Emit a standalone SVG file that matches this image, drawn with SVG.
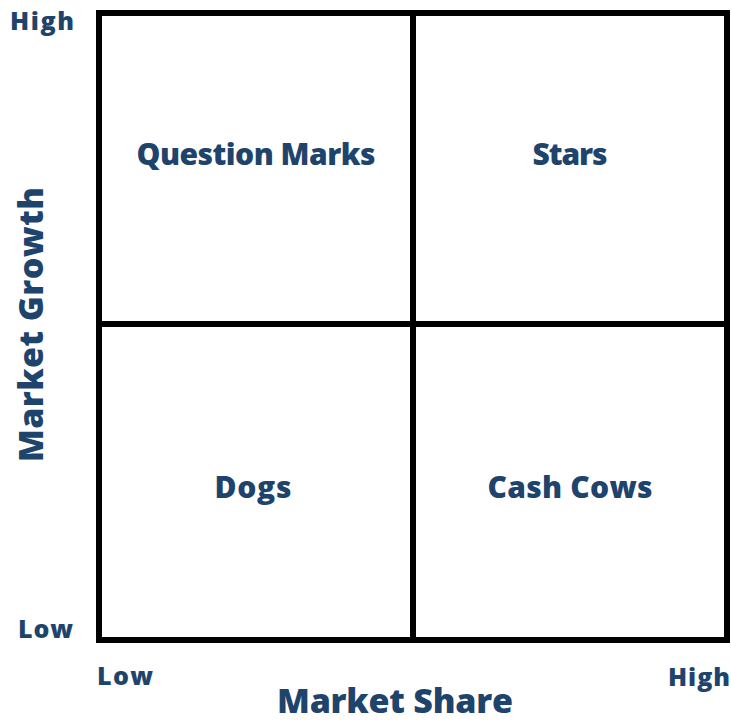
<svg xmlns="http://www.w3.org/2000/svg" width="731" height="722" viewBox="0 0 731 722">
<style>
.t{font-family:"Open Sans",Lato,"Liberation Sans",sans-serif;font-weight:800;fill:#1f446c}
.q{font-size:30px;text-anchor:middle}
.ax{font-size:25px}
.big{font-size:34px;text-anchor:middle}
.ln{stroke:#000;stroke-width:6;fill:none}
</style>
<rect width="731" height="722" fill="#fff"/>
<g id="connectors">
<rect class="ln" x="99" y="13" width="628" height="627"/>
<line class="ln" x1="413" y1="13" x2="413" y2="640"/>
<line class="ln" x1="99" y1="324" x2="727" y2="324"/>
</g>
<g id="question-marks"><text class="t q" x="256" y="165" textLength="239">Question Marks</text></g>
<g id="stars"><text class="t q" x="570" y="165" textLength="75">Stars</text></g>
<g id="dogs"><text class="t q" x="253" y="498" textLength="77">Dogs</text></g>
<g id="cash-cows"><text class="t q" x="570" y="498" textLength="165">Cash Cows</text></g>
<g id="y-axis">
<text class="t ax" x="10" y="30" textLength="64">High</text>
<text class="t ax" x="18" y="638" textLength="55">Low</text>
<text class="t big" transform="translate(43,324.5) rotate(-90)" x="0" y="0" textLength="275">Market Growth</text>
</g>
<g id="x-axis">
<text class="t ax" x="97" y="685" textLength="56">Low</text>
<text class="t ax" x="668" y="686" textLength="62">High</text>
<text class="t big" x="395" y="713" textLength="236">Market Share</text>
</g>
</svg>
